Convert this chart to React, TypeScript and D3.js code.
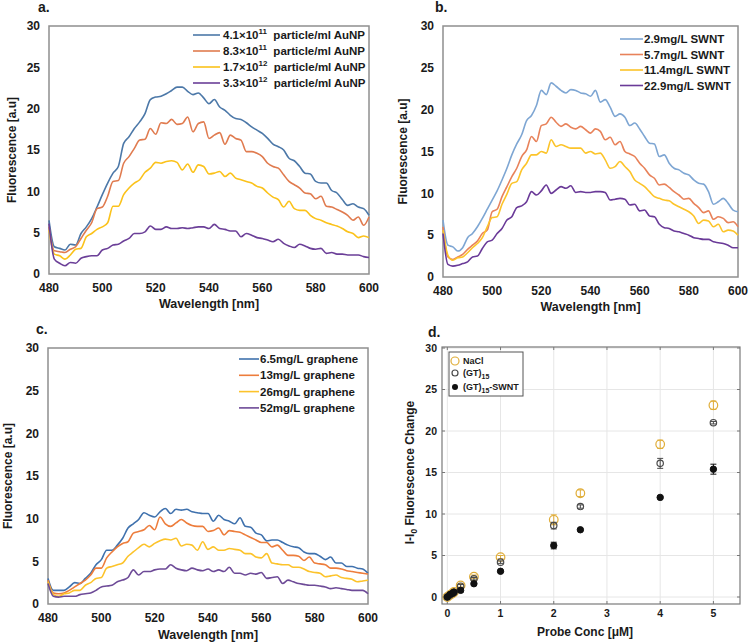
import React from 'react';
import * as d3 from 'd3';

const wavelengths = [480,482,484,486,488,490,492,494,496,498,500,502,504,506,508,510,512,514,516,518,520,522,524,526,528,530,532,534,536,538,540,542,544,546,548,550,552,554,556,558,560,562,564,566,568,570,572,574,576,578,580,582,584,586,588,590,592,594,596,598,600];

const aBlue = [6.5,3.3,3.1,2.9,3.6,3.5,4.9,5.7,6.7,8.1,9.6,11.0,12.2,13.0,15.8,16.6,17.6,18.4,19.4,21.1,21.4,21.5,21.8,22.2,22.6,22.6,22.1,21.7,21.9,21.3,20.6,21.1,20.2,19.8,19.2,18.8,18.7,18.3,17.8,17.4,17.0,16.4,15.7,15.4,15.0,14.0,13.7,13.0,12.2,12.1,11.2,11.0,11.0,10.1,9.8,9.0,8.3,8.5,8.1,7.9,7.1];
const aOrange = [5.7,2.8,2.7,2.6,3.0,3.3,4.3,5.3,6.2,7.9,8.1,9.4,11.2,11.3,13.4,14.2,15.2,16.2,16.3,17.6,16.9,18.3,18.2,18.7,18.1,18.2,19.0,17.2,18.2,18.4,16.4,16.8,17.1,15.7,16.8,16.4,16.2,14.8,14.8,14.6,14.2,13.4,13.0,12.8,12.0,11.2,10.8,10.4,9.8,9.7,9.1,9.4,8.2,8.1,7.8,7.5,7.1,6.5,6.9,5.9,6.9];
const aYellow = [5.3,2.4,2.2,1.8,2.3,3.0,3.1,4.5,4.9,5.4,5.7,6.2,8.2,8.2,9.6,10.4,11.0,11.4,12.3,12.8,13.5,13.4,13.6,13.7,13.5,12.6,13.3,12.3,13.2,13.0,12.1,12.2,12.4,11.8,12.2,11.6,11.4,11.2,11.0,10.6,10.4,9.8,9.3,9.0,8.1,8.8,7.9,7.7,7.7,7.1,6.7,6.5,6.2,6.0,5.8,5.5,5.1,4.9,4.4,4.6,4.4];
const aPurple = [6.1,1.8,1.3,1.0,1.4,1.3,1.9,2.1,2.2,2.2,2.9,3.1,3.5,3.6,4.0,4.3,4.9,4.9,5.1,5.8,5.4,5.4,5.7,5.5,5.5,5.6,5.5,5.6,5.7,5.7,5.5,6.0,5.5,5.4,5.2,5.2,4.5,4.9,4.7,4.4,4.3,4.1,3.9,4.2,3.7,3.4,3.2,3.6,3.4,3.1,3.0,3.1,2.5,2.6,2.4,2.4,2.3,2.3,2.3,2.1,2.0];

const bBlue = [6.8,3.8,3.6,3.1,3.5,4.7,5.2,6.0,7.0,8.1,9.2,10.3,11.6,13.0,14.6,15.9,17.0,18.7,19.3,20.5,22.3,21.8,23.2,22.8,22.3,22.0,22.4,22.3,22.0,21.9,21.6,22.3,20.9,21.2,20.3,19.2,19.5,19.1,18.1,18.4,17.7,16.8,16.0,15.9,14.4,14.6,13.6,13.0,12.8,12.4,12.2,11.6,11.2,11.1,10.2,8.7,9.0,9.4,8.8,8.0,7.8];
const bOrange = [6.0,2.4,2.1,2.4,2.7,3.3,3.8,4.3,5.2,5.6,7.8,8.1,9.6,10.8,12.0,13.0,14.4,15.2,16.8,16.2,18.1,18.3,19.1,18.5,18.0,18.3,17.9,17.7,18.0,17.6,17.2,17.7,17.4,16.4,16.7,15.8,16.2,15.0,14.7,14.4,13.6,13.0,12.2,11.8,11.0,11.1,10.7,10.2,9.8,9.3,9.4,8.8,8.3,7.7,7.9,6.9,7.2,7.0,6.5,6.6,6.0];
const bYellow = [5.6,2.6,2.0,2.3,2.4,2.9,3.5,4.0,4.7,6.0,7.1,7.2,8.7,9.9,11.2,11.4,12.8,13.6,14.6,14.6,15.0,14.8,16.4,15.6,15.8,15.6,15.4,15.4,15.4,14.8,15.0,14.7,14.8,14.0,13.0,13.2,13.8,13.2,12.6,11.6,11.2,10.8,10.2,9.6,9.4,9.2,9.1,8.7,8.4,8.1,7.8,7.3,6.4,6.8,6.7,6.0,6.3,5.4,5.6,5.5,5.0];
const bPurple = [5.2,1.5,1.3,1.4,1.6,1.8,2.4,2.5,3.4,4.2,4.4,5.2,5.8,6.8,7.2,8.3,8.5,9.0,10.2,9.8,10.3,11.0,10.0,10.4,10.8,10.6,10.9,10.1,10.2,10.1,10.1,10.2,10.2,10.1,9.2,9.3,9.4,9.3,8.6,8.7,7.9,8.0,7.3,7.2,6.3,5.9,5.8,5.5,5.4,5.2,5.0,4.7,4.6,4.5,4.5,4.2,4.1,4.0,3.8,3.5,3.5];

const cBlue = [3.0,1.6,1.6,1.6,2.0,2.5,2.4,3.0,3.6,4.6,5.2,6.3,6.3,6.9,7.7,8.9,9.4,9.9,10.7,10.4,10.2,10.8,11.2,10.6,11.1,11.0,11.1,10.8,10.7,10.6,10.6,9.7,10.4,9.9,9.7,9.4,10.1,9.1,9.0,8.3,8.1,7.4,7.5,7.5,7.2,6.9,6.7,6.6,6.1,5.9,5.9,5.6,5.2,5.5,4.8,4.8,4.4,4.4,4.2,4.1,3.6];
const cOrange = [2.8,1.3,1.2,1.3,1.6,2.0,2.4,2.8,3.4,4.2,4.2,5.4,6.1,6.7,7.1,7.3,8.3,8.5,8.7,9.2,8.7,10.2,9.4,9.1,9.5,9.9,9.5,9.2,9.1,9.1,8.5,8.6,8.9,8.1,8.6,8.5,8.4,8.1,7.8,7.5,7.2,7.2,6.7,6.9,6.3,5.7,5.7,5.6,5.1,5.5,4.8,4.7,4.6,4.2,4.2,4.1,3.9,3.8,3.7,3.6,3.5];
const cYellow = [2.6,1.1,0.9,1.2,1.3,1.6,1.6,2.2,2.5,3.0,3.1,4.2,4.4,4.6,4.8,5.6,6.1,6.6,7.0,6.7,7.1,7.4,7.6,7.5,7.7,6.8,7.0,6.9,6.3,7.3,6.4,6.7,6.3,6.3,6.5,6.4,6.3,5.9,5.9,5.5,5.4,5.9,4.8,4.7,4.6,4.6,4.3,4.3,4.1,3.8,3.7,3.6,3.2,3.3,3.4,3.1,3.0,2.9,2.6,2.7,2.8];
const cPurple = [2.4,0.9,0.8,0.9,0.9,0.9,1.1,1.2,1.3,1.6,2.0,2.1,2.2,2.6,2.8,3.1,4.0,3.4,3.8,3.8,4.0,4.1,4.1,4.6,4.2,4.0,3.9,4.2,4.0,3.9,4.1,3.8,4.0,3.8,4.3,3.6,3.6,3.4,3.6,3.5,3.7,3.0,3.1,3.2,2.4,2.8,2.6,2.4,2.3,2.2,2.2,2.1,2.0,1.8,1.9,1.8,1.7,1.6,1.6,1.6,1.2];

const aLabels = [['4.1×10', '11'], ['8.3×10', '11'], ['1.7×10', '12'], ['3.3×10', '12']];
const bLabels = ['2.9mg/L SWNT', '5.7mg/L SWNT', '11.4mg/L SWNT', '22.9mg/L SWNT'];
const cLabels = ['6.5mg/L graphene', '13mg/L graphene', '26mg/L graphene', '52mg/L graphene'];

const yTicks = [0, 5, 10, 15, 20, 25, 30];
const xTicks = [480, 500, 520, 540, 560, 580, 600];

// panel d
const probeConc = [0, 0.05, 0.1, 0.125, 0.25, 0.5, 1, 2, 2.5, 4, 5];
const naclMean = [0.0, 0.25, 0.45, 0.6, 1.4, 2.45, 4.8, 9.3, 12.5, 18.4, 23.1];
const naclErr = [0.05, 0.1, 0.1, 0.1, 0.2, 0.2, 0.2, 0.6, 0.4, 0.5, 0.5];
const gtMean = [0.0, 0.25, 0.45, 0.55, 1.3, 2.2, 4.2, 8.6, 10.9, 16.1, 21.0];
const gtErr = [0.05, 0.1, 0.1, 0.1, 0.2, 0.15, 0.15, 0.4, 0.2, 0.6, 0.15];
const swntMean = [0.0, 0.3, 0.45, 0.6, 0.8, 1.6, 3.1, 6.2, 8.1, 12.0, 15.4];
const swntErr = [0.05, 0.1, 0.1, 0.1, 0.2, 0.15, 0.1, 0.4, 0.1, 0.1, 0.6];
const dXTicks = [0, 1, 2, 3, 4, 5];
const dYTicks = [0, 5, 10, 15, 20, 25, 30];

const FONT = '"Liberation Sans", Arial, Helvetica, sans-serif';
const COLORS = {
  a: ['#4c78a8', '#e07b4f', '#fbc21b', '#6b3f98'],
  b: ['#7ea6d3', '#e8825a', '#fcc42a', '#6a3a98'],
  c: ['#3f71ad', '#ed7d3c', '#fcc32b', '#6d4a97'],
};

type PanelProps = {
  box: { l: number; r: number; t: number; b: number };
  series: number[][];
  colors: string[];
  letter: string;
  letterPos: [number, number];
  yLabelX: number;
  xLabelY: number;
  legend: { lineX1: number; lineX2: number; textX: number; y0: number; gap: number; fontSize: number };
  legendText: (i: number) => React.ReactNode;
};

function LinePanel(p: PanelProps) {
  const x = d3.scaleLinear().domain([480, 600]).range([p.box.l, p.box.r]);
  const y = d3.scaleLinear().domain([0, 30]).range([p.box.b, p.box.t]);
  const line = d3
    .line<number>()
    .x((_, i) => x(wavelengths[i]))
    .y((d) => y(d))
    .curve(d3.curveMonotoneX);
  const cx = (p.box.l + p.box.r) / 2;
  const cy = (p.box.t + p.box.b) / 2;
  return (
    <g fontFamily={FONT} fontWeight="bold" fill="#1a1a1a">
      <text x={p.letterPos[0]} y={p.letterPos[1]} fontSize={14}>{p.letter}</text>
      <rect x={p.box.l} y={p.box.t} width={p.box.r - p.box.l} height={p.box.b - p.box.t} fill="none" stroke="#8f8f8f" strokeWidth={1.5} />
      {yTicks.map((t) => (
        <text key={'y' + t} x={p.box.l - 9} y={y(t)} dy="0.35em" textAnchor="end" fontSize={12}>{t}</text>
      ))}
      {xTicks.map((t) => (
        <text key={'x' + t} x={x(t)} y={p.box.b + 18} textAnchor="middle" fontSize={12}>{t}</text>
      ))}
      <text x={cx} y={p.xLabelY} textAnchor="middle" fontSize={12.5}>Wavelength [nm]</text>
      <text transform={`translate(${p.yLabelX},${cy}) rotate(-90)`} textAnchor="middle" fontSize={12}>Fluorescence [a.u]</text>
      {p.series.map((s, i) => (
        <path key={'s' + i} d={line(s) || ''} fill="none" stroke={p.colors[i]} strokeWidth={1.6} />
      ))}
      {p.series.map((_, i) => {
        const ly = p.legend.y0 + i * p.legend.gap;
        return (
          <g key={'l' + i}>
            <line x1={p.legend.lineX1} x2={p.legend.lineX2} y1={ly} y2={ly} stroke={p.colors[i]} strokeWidth={1.6} />
            <text x={p.legend.textX} y={ly} dy="0.35em" fontSize={p.legend.fontSize}>{p.legendText(i)}</text>
          </g>
        );
      })}
    </g>
  );
}

function ScatterPanel() {
  const box = { l: 442, r: 740, t: 347, b: 604 };
  const x = d3.scaleLinear().domain([-0.1, 5.5]).range([box.l, box.r]);
  const y = d3.scaleLinear().domain([0, 30]).range([597, 348]);
  const groups = [
    { mean: naclMean, err: naclErr, color: '#e0ad38', fill: 'none', r: 4.3, sw: 1.2 },
    { mean: gtMean, err: gtErr, color: '#4a4a4a', fill: 'none', r: 3.2, sw: 1.2 },
    { mean: swntMean, err: swntErr, color: '#111', fill: '#111', r: 3.2, sw: 1 },
  ];
  return (
    <g fontFamily={FONT} fontWeight="bold" fill="#1a1a1a">
      <text x={428} y={337} fontSize={14}>d.</text>
      <rect x={box.l} y={box.t} width={box.r - box.l} height={box.b - box.t} fill="#fff" stroke="none" />
      {dXTicks.map((t) => (
        <line key={'gx' + t} x1={x(t)} x2={x(t)} y1={box.t} y2={box.b} stroke="#e6e6e6" strokeWidth={1} />
      ))}
      {dYTicks.map((t) => (
        <line key={'gy' + t} x1={box.l} x2={box.r} y1={y(t)} y2={y(t)} stroke="#e6e6e6" strokeWidth={1} />
      ))}
      {dXTicks.map((t) => (
        <g key={'tx' + t}>
          <line x1={x(t)} x2={x(t)} y1={box.b} y2={box.b - 3} stroke="#777" />
          <line x1={x(t)} x2={x(t)} y1={box.t} y2={box.t + 3} stroke="#777" />
          <text x={x(t)} y={box.b + 13} textAnchor="middle" fontSize={10.5}>{t}</text>
        </g>
      ))}
      {dYTicks.map((t) => (
        <g key={'ty' + t}>
          <line x1={box.l} x2={box.l + 3} y1={y(t)} y2={y(t)} stroke="#777" />
          <line x1={box.r} x2={box.r - 3} y1={y(t)} y2={y(t)} stroke="#777" />
          <text x={box.l - 5} y={y(t)} dy="0.35em" textAnchor="end" fontSize={10.5}>{t}</text>
        </g>
      ))}
      <rect x={box.l} y={box.t} width={box.r - box.l} height={box.b - box.t} fill="none" stroke="#7a7a7a" strokeWidth={1.2} />
      {groups.map((g, gi) => (
        <g key={'g' + gi}>
          {probeConc.map((c, i) => {
            const px = x(c);
            const y1 = y(g.mean[i] - g.err[i]);
            const y2 = y(g.mean[i] + g.err[i]);
            return (
              <g key={i}>
                <line x1={px} x2={px} y1={y1} y2={y2} stroke={g.color} strokeWidth={1} />
                <line x1={px - 3} x2={px + 3} y1={y1} y2={y1} stroke={g.color} strokeWidth={1} />
                <line x1={px - 3} x2={px + 3} y1={y2} y2={y2} stroke={g.color} strokeWidth={1} />
                <circle cx={px} cy={y(g.mean[i])} r={g.r} fill={g.fill} stroke={g.color} strokeWidth={g.sw} />
              </g>
            );
          })}
        </g>
      ))}
      <text x={585} y={636} textAnchor="middle" fontSize={12}>Probe Conc [μM]</text>
      <text transform={`translate(414,${(348 + 597) / 2}) rotate(-90)`} textAnchor="middle" fontSize={12}>
        I-I<tspan dy={3} fontSize={8.5}>0</tspan><tspan dy={-3}> Fluorescence Change</tspan>
      </text>
      <rect x={449} y={352} width={74} height={44} fill="#fff" stroke="#555" strokeWidth={1} />
      <circle cx={455} cy={361} r={4} fill="none" stroke="#e0ad38" strokeWidth={1.2} />
      <text x={463} y={361} dy="0.35em" fontSize={9}>NaCl</text>
      <circle cx={455} cy={373} r={3} fill="none" stroke="#4a4a4a" strokeWidth={1.2} />
      <text x={463} y={373} dy="0.35em" fontSize={9}>(GT)<tspan dy={3} fontSize={7}>15</tspan></text>
      <circle cx={455} cy={387} r={3} fill="#111" />
      <text x={463} y={387} dy="0.35em" fontSize={9}>(GT)<tspan dy={3} fontSize={7}>15</tspan><tspan dy={-3}>-SWNT</tspan></text>
    </g>
  );
}

export default function App() {
  return (
    <svg width={750} height={644} style={{ position: 'absolute', left: 0, top: 0, background: '#fff' }}>
      <rect width={750} height={644} fill="#fff" />
      <LinePanel
        box={{ l: 49, r: 369, t: 26, b: 274 }}
        series={[aBlue, aOrange, aYellow, aPurple]}
        colors={COLORS.a}
        letter="a."
        letterPos={[38, 12]}
        yLabelX={16}
        xLabelY={308}
        legend={{ lineX1: 193, lineX2: 220, textX: 223, y0: 35, gap: 16, fontSize: 11.5 }}
        legendText={(i) => (
          <>
            {aLabels[i][0]}
            <tspan dy={-5} fontSize={8}>{aLabels[i][1]}</tspan>
            <tspan dy={5} xmlSpace="preserve">{'  particle/ml AuNP'}</tspan>
          </>
        )}
      />
      <LinePanel
        box={{ l: 443, r: 738, t: 26, b: 277 }}
        series={[bBlue, bOrange, bYellow, bPurple]}
        colors={COLORS.b}
        letter="b."
        letterPos={[435, 12]}
        yLabelX={407}
        xLabelY={311}
        legend={{ lineX1: 620, lineX2: 643, textX: 644, y0: 39, gap: 15.5, fontSize: 11.5 }}
        legendText={(i) => bLabels[i]}
      />
      <LinePanel
        box={{ l: 48, r: 368, t: 348, b: 604 }}
        series={[cBlue, cOrange, cYellow, cPurple]}
        colors={COLORS.c}
        letter="c."
        letterPos={[36, 334]}
        yLabelX={12}
        xLabelY={639}
        legend={{ lineX1: 239, lineX2: 259, textX: 260, y0: 359, gap: 16.3, fontSize: 11.5 }}
        legendText={(i) => cLabels[i]}
      />
      <ScatterPanel />
    </svg>
  );
}
